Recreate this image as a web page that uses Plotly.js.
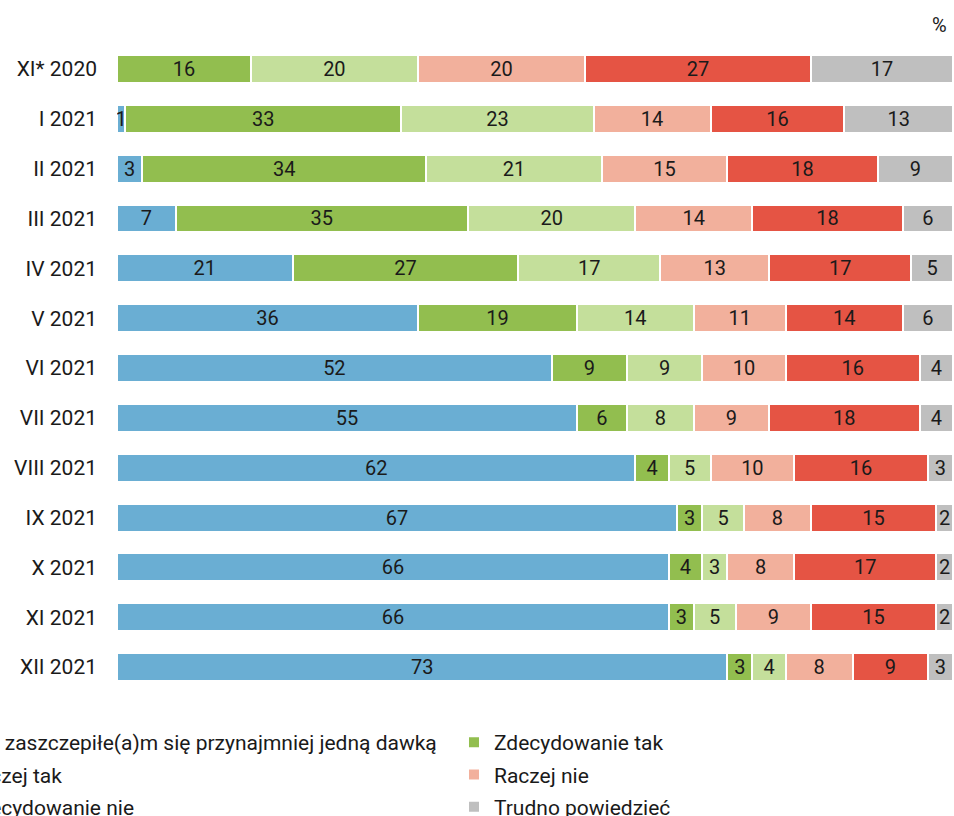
<!DOCTYPE html>
<html>
<head>
<meta charset="utf-8">
<script src="https://cdn.plot.ly/plotly-3.0.1.min.js"></script>
<style>html,body{margin:0;padding:0;background:#fff;overflow:hidden}#chart{width:954px;height:816px}</style>
</head>
<body>
<div id="chart"></div>
<script>
const categories = ["XI* 2020","I 2021","II 2021","III 2021","IV 2021","V 2021","VI 2021","VII 2021","VIII 2021","IX 2021","X 2021","XI 2021","XII 2021"];
const seriesNames = ["Już zaszczepiłe(a)m się przynajmniej jedną dawką","Zdecydowanie tak","Raczej tak","Raczej nie","Zdecydowanie nie","Trudno powiedzieć"];
const vaccinated      = [null, 1, 3, 7, 21, 36, 52, 55, 62, 67, 66, 66, 73];
const definitelyYes   = [16, 33, 34, 35, 27, 19, 9, 6, 4, 3, 4, 3, 3];
const ratherYes       = [20, 23, 21, 20, 17, 14, 9, 8, 5, 5, 3, 5, 4];
const ratherNo        = [20, 14, 15, 14, 13, 11, 10, 9, 10, 8, 8, 9, 8];
const definitelyNo    = [27, 16, 18, 18, 17, 14, 16, 18, 16, 15, 17, 15, 9];
const hardToSay       = [17, 13, 9, 6, 5, 6, 4, 4, 3, 2, 2, 2, 3];

const seriesValues = [vaccinated, definitelyYes, ratherYes, ratherNo, definitelyNo, hardToSay];
const colors = ["#6AAED3","#92BE4F","#C4DF9B","#F2B09C","#E55444","#BFBFBF"];
const legendFor = ["legend","legend2","legend","legend2","legend","legend2"];

const traces = seriesValues.map((vals, i) => ({
  type: "bar",
  orientation: "h",
  name: seriesNames[i],
  y: categories,
  x: vals,
  text: vals.map(v => v == null ? "" : String(v)),
  textposition: "inside",
  insidetextanchor: "middle",
  constraintext: "none",
  textangle: 0,
  insidetextfont: {family: "Roboto, sans-serif", size: 20, color: "#1a1a1a"},
  marker: {color: colors[i], line: {color: "#ffffff", width: 2}},
  legend: legendFor[i],
  legendgroup: "g" + i,
  hoverinfo: "skip"
}));

const legendCommon = {
  orientation: "v",
  xanchor: "left",
  yanchor: "top",
  font: {family: "Roboto, sans-serif", size: 21, color: "#1a1a1a"},
  bgcolor: "rgba(0,0,0,0)",
  tracegroupgap: 2,
  traceorder: "grouped"
};

const layout = {
  width: 954,
  height: 816,
  margin: {l: 117, r: 1, t: 44, b: 124, autoexpand: false},
  paper_bgcolor: "#ffffff",
  plot_bgcolor: "#ffffff",
  barmode: "stack",
  bargap: 0.44,
  font: {family: "Roboto, sans-serif", size: 21, color: "#1a1a1a"},
  xaxis: {range: [0, 100], visible: false, fixedrange: true},
  yaxis: {
    type: "category",
    categoryorder: "array",
    categoryarray: categories,
    autorange: "reversed",
    showgrid: false,
    zeroline: false,
    showline: false,
    ticks: "",
    ticklabelstandoff: 19,
    tickfont: {family: "Roboto, sans-serif", size: 21, color: "#1a1a1a"}
  },
  showlegend: true,
  legend: Object.assign({}, legendCommon, {x: -0.2285, y: -0.0463}),
  legend2: Object.assign({}, legendCommon, {x: 0.4031, y: -0.0463}),
  annotations: [{
    text: "%",
    xref: "paper", yref: "paper",
    x: 0.984, y: 1.029,
    xanchor: "center", yanchor: "middle",
    showarrow: false,
    font: {family: "Roboto, sans-serif", size: 20, color: "#1a1a1a"}
  }]
};

Plotly.newPlot("chart", traces, layout, {displayModeBar: false, staticPlot: true});
</script>
</body>
</html>
